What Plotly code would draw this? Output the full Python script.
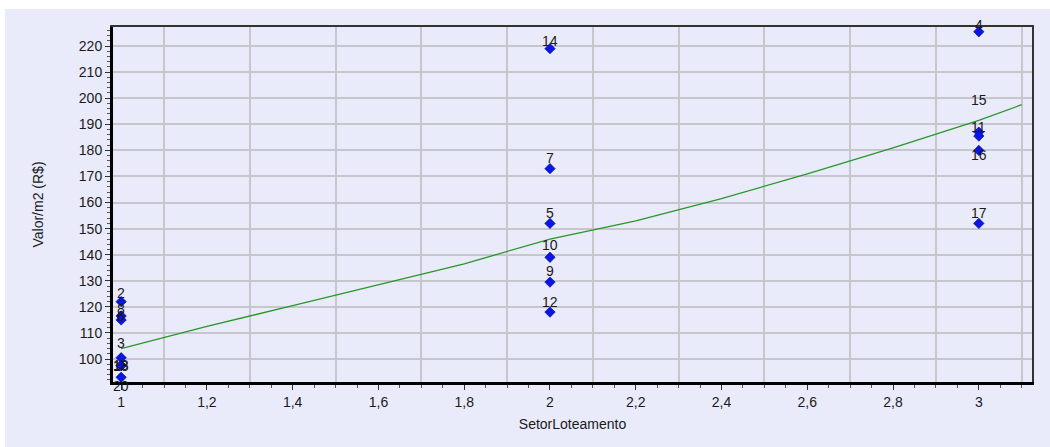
import plotly.graph_objects as go

# Observations: sector (x), price per m2 (y) and the sample number of each point
point_x = [1, 1, 1, 1, 1, 1, 1,
           2, 2, 2, 2, 2, 2,
           3, 3, 3, 3, 3]
point_y = [122, 116.5, 115, 100.5, 97.5, 93, 97.5,
           219, 173, 152, 139, 129.5, 118,
           225.5, 187, 185.5, 180, 152]
point_labels = ["2", "8", "6", "3", "13", "18", "20",
                "14", "7", "5", "10", "9", "12",
                "4", "15", "11", "16", "17"]
# vertical offset of each point label, in pixels
label_shift = [9, 7, 4, 15, 1, 11, -20,
               8, 11, 10, 12, 11, 10,
               7, 32, 9, -5, 10]

# Fitted model curve
fit_x = [1.0, 1.2, 1.4, 1.6, 1.8, 2.0, 2.2, 2.4, 2.6, 2.8, 3.0, 3.1]
fit_y = [104, 112.5, 120.5, 128.5, 136.5, 146, 153, 161.5, 171, 181, 191.5, 197.5]

# Vertical grid positions (between labelled ticks)
grid_x = [1.1, 1.3, 1.5, 1.7, 1.9, 2.1, 2.3, 2.5, 2.7, 2.9, 3.1]

x_range = [0.981, 3.124]
y_range = [91.2, 227.3]

BG = "#E9EBFA"
GRID = "#C6C6CC"
FONT = "Liberation Sans, Arial, sans-serif"

fig = go.Figure()

fig.add_trace(go.Scatter(
    x=fit_x, y=fit_y, mode="lines",
    line=dict(color="#2A962A", width=1.3),
    hoverinfo="skip", showlegend=False,
))

fig.add_trace(go.Scatter(
    x=point_x, y=point_y, mode="markers",
    marker=dict(symbol="diamond", size=8, color="#0A16E8",
                line=dict(color="#00007A", width=0.6)),
    cliponaxis=False, showlegend=False,
))

# empty trace that carries the framing/grid axes
fig.add_trace(go.Scatter(x=[], y=[], xaxis="x2", yaxis="y2",
                         showlegend=False, hoverinfo="skip"))

annotations = [
    dict(x=xv, y=yv, xref="x", yref="y", text=t, showarrow=False,
         yshift=s, font=dict(family=FONT, size=14, color="#1A1A1A"))
    for xv, yv, t, s in zip(point_x, point_y, point_labels, label_shift)
]

fig.update_layout(
    width=1050, height=447,
    margin=dict(l=113, r=18, t=27, b=65),
    paper_bgcolor=BG, plot_bgcolor=BG,
    separators=",.",
    font=dict(family=FONT, size=13, color="#1A1A1A"),
    annotations=annotations,
    xaxis=dict(
        range=x_range, tick0=1, dtick=0.2,
        ticks="outside", ticklen=5, tickwidth=1, tickcolor="#333",
        showline=True, linecolor="#000", linewidth=3,
        showgrid=False, zeroline=False,
        minor=dict(dtick=0.05, ticks="outside", ticklen=3,
                   tickcolor="#555", showgrid=False),
        tickfont=dict(size=14),
        title=dict(text="SetorLoteamento", standoff=11, font=dict(size=14)),
    ),
    xaxis2=dict(
        overlaying="x", side="top", anchor="y2", range=x_range,
        tickmode="array", tickvals=grid_x, showticklabels=False, ticks="",
        showgrid=True, gridcolor=GRID, gridwidth=1.5,
        showline=True, linecolor="#333", linewidth=1.5, zeroline=False,
    ),
    yaxis=dict(
        range=y_range, tick0=100, dtick=10,
        ticks="outside", ticklen=5, tickwidth=1, tickcolor="#333",
        showline=True, linecolor="#000", linewidth=3,
        showgrid=True, gridcolor=GRID, gridwidth=1.5, zeroline=False,
        minor=dict(dtick=2, ticks="outside", ticklen=3,
                   tickcolor="#555", showgrid=False),
        tickfont=dict(size=14),
        title=dict(text="Valor/m2 (R$)", standoff=32, font=dict(size=14)),
    ),
    yaxis2=dict(
        overlaying="y", side="right", anchor="x2", range=y_range,
        showticklabels=False, ticks="", showgrid=False,
        showline=True, linecolor="#333", linewidth=1.5, zeroline=False,
    ),
    shapes=[
        dict(type="rect", xref="paper", yref="paper",
             x0=-0.2, x1=1.1, y0=1.0507, y1=1.1,
             fillcolor="white", line=dict(width=0), layer="below"),
        dict(type="rect", xref="paper", yref="paper",
             x0=-0.2, x1=-0.1175, y0=-0.3, y1=1.1,
             fillcolor="white", line=dict(width=0), layer="below"),
    ],
)

fig.write_html("out.html")
